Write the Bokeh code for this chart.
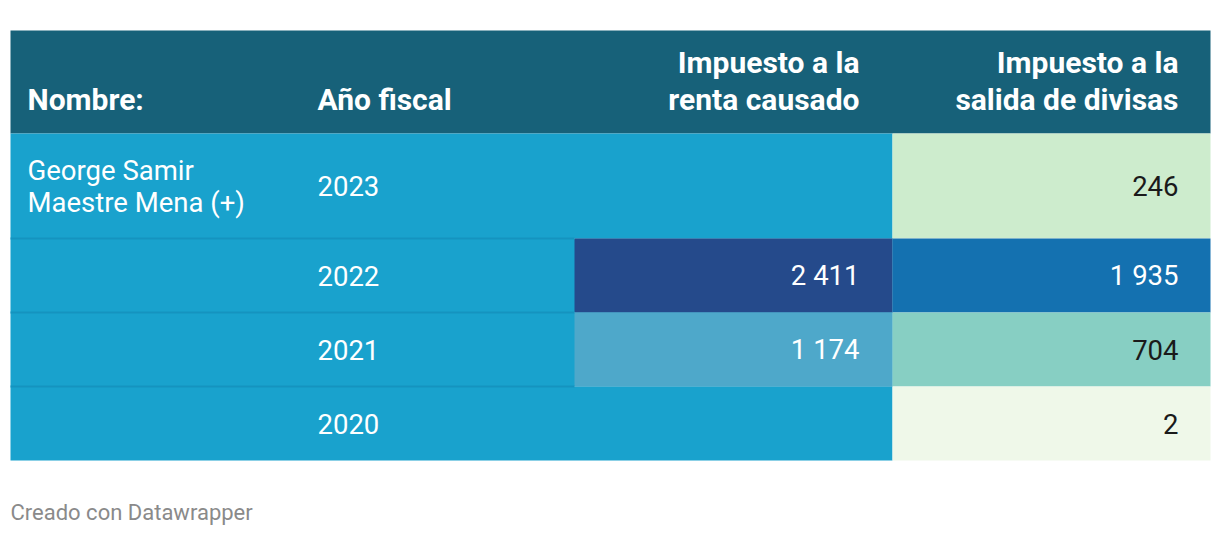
from bokeh.plotting import figure
from bokeh.models import Range1d
from bokeh.core.properties import value
from bokeh.embed import file_html
from bokeh.resources import INLINE

# ---------------- data ----------------
headers = ["Nombre:", "Año fiscal", "Impuesto a la\nrenta causado", "Impuesto a la\nsalida de divisas"]
nombres = ["George Samir\nMaestre Mena (+)", "", "", ""]
anios = ["2023", "2022", "2021", "2020"]
renta = [None, 2411, 1174, None]
salida = [246, 1935, 704, 2]
footer = "Creado con Datawrapper"

# ---------------- style ----------------
HEADER_BG = "#176179"
ROW_BG = "#19a2cd"
SEP = "#1593bf"
renta_colors = [None, "#254a8b", "#4ea8ca", None]
salida_colors = ["#cdeccd", "#1471b0", "#87cfc3", "#eff8e9"]
renta_text = ["white", "white", "white", "white"]
salida_text = ["#1a1a1a", "white", "#1a1a1a", "#1a1a1a"]
FONT = value("Roboto")

W, H = 1220, 536
LEFT, RIGHT = 10, 1210
COL3_L, COL4_L = 574, 892
HEAD_T, HEAD_B = 30, 133
row_bounds = [133, 238, 312, 386, 460]
col_text_x = [27, 317]
col_right_x = [859, 1178]
BASE_FIX = -0.36  # em offset correcting rendered baseline


def fmt(v):
    return "" if v is None else f"{v:,}".replace(",", " ")


p = figure(width=W, height=H, output_backend="svg", toolbar_location=None,
           x_range=Range1d(0, W), y_range=Range1d(H, 0),
           x_axis_type=None, y_axis_type=None, min_border=0)
p.grid.visible = False
p.outline_line_color = None
p.background_fill_color = "white"
p.border_fill_color = "white"


def txt(x, y, s, size, color, align="left", bold=False):
    p.text(x=[x], y=[y + BASE_FIX * size], text=[s], text_font=FONT,
           text_font_style="bold" if bold else "normal",
           text_font_size=f"{size}px", text_color=color,
           text_align=align, text_baseline="alphabetic")


# header band
p.quad(left=[LEFT], right=[RIGHT], top=[HEAD_T], bottom=[HEAD_B],
       fill_color=HEADER_BG, line_color=None)

# rows background (first three columns)
n = len(anios)
tops = row_bounds[:-1]
bots = row_bounds[1:]
p.quad(left=[LEFT] * n, right=[COL4_L] * n, top=tops, bottom=bots,
       fill_color=ROW_BG, line_color=None)

# colored cells
for i in range(n):
    if renta[i] is not None:
        p.quad(left=[COL3_L], right=[COL4_L], top=[tops[i]], bottom=[bots[i]],
               fill_color=renta_colors[i], line_color=None)
    if salida[i] is not None:
        p.quad(left=[COL4_L], right=[RIGHT], top=[tops[i]], bottom=[bots[i]],
               fill_color=salida_colors[i], line_color=None)
    else:
        p.quad(left=[COL4_L], right=[RIGHT], top=[tops[i]], bottom=[bots[i]],
               fill_color=ROW_BG, line_color=None)

# separators
for i in range(1, n):
    y = row_bounds[i]
    p.segment(x0=[LEFT], y0=[y], x1=[COL3_L], y1=[y], line_color=SEP, line_width=2)
    if renta[i - 1] is None and renta[i] is None:
        p.segment(x0=[COL3_L], y0=[y], x1=[COL4_L], y1=[y], line_color=SEP, line_width=2)

# header texts
HEAD_SIZE = 30
HEAD_LH = 37
head_base = 110
for j, h in enumerate(headers):
    lines = h.split("\n")
    for k, line in enumerate(reversed(lines)):
        y = head_base - k * HEAD_LH
        if j < 2:
            txt(col_text_x[j], y, line, HEAD_SIZE, "white", "left", True)
        else:
            txt(col_right_x[j - 2], y, line, HEAD_SIZE, "white", "right", True)

# body texts
BODY_SIZE = 27.5
BODY_LH = 32
CAP_HALF = 10
for i in range(n):
    cy = (tops[i] + bots[i]) / 2 + CAP_HALF
    if nombres[i]:
        lines = nombres[i].split("\n")
        first = cy - (len(lines) - 1) * BODY_LH / 2
        for k, line in enumerate(lines):
            txt(col_text_x[0], first + k * BODY_LH, line, BODY_SIZE, "white")
    txt(col_text_x[1], cy, anios[i], BODY_SIZE, "white")
    if renta[i] is not None:
        txt(col_right_x[0], cy, fmt(renta[i]), BODY_SIZE, renta_text[i], "right")
    if salida[i] is not None:
        txt(col_right_x[1], cy, fmt(salida[i]), BODY_SIZE, salida_text[i], "right")

# footer
txt(LEFT, 520, footer, 22, "#8a8a8a")

open("out.html", "w").write(file_html(p, INLINE))
